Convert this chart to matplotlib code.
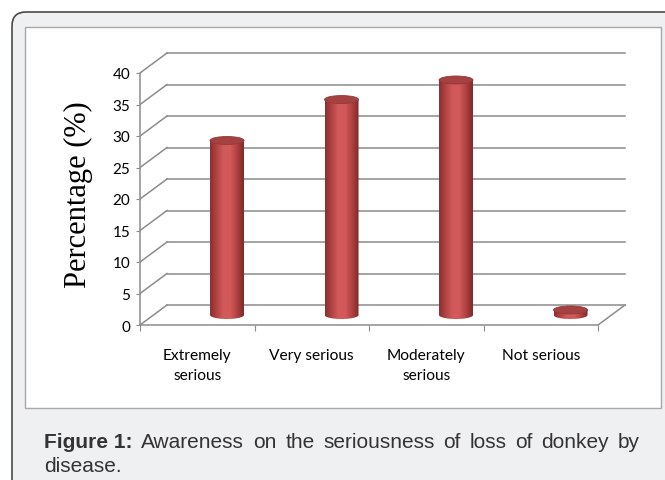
import numpy as np
import matplotlib
matplotlib.use("Agg")
import matplotlib.pyplot as plt
from matplotlib.patches import FancyBboxPatch, Rectangle, Ellipse, Polygon
from matplotlib.colors import LinearSegmentedColormap

# data
categories = ["Extremely\nserious", "Very serious", "Moderately\nserious", "Not serious"]
values = [27.7, 34.2, 37.3, 0.8]
yticks = [0, 5, 10, 15, 20, 25, 30, 35, 40]
caption_bold = "Figure 1:"
caption_rest = "Awareness on the seriousness of loss of donkey by"
caption_line2 = "disease."

W, H = 665, 481
fig = plt.figure(figsize=(W / 100, H / 100), dpi=100)
fig.patch.set_facecolor("white")

# background axes in pixel coords (frames, caption, y label)
bg = fig.add_axes([0, 0, 1, 1], zorder=0)
bg.set_xlim(0, W)
bg.set_ylim(H, 0)
bg.axis("off")
bg.add_patch(FancyBboxPatch((12, 13), 720, 490, boxstyle="round,pad=0,rounding_size=14",
                            fc="#eff0f2", ec="#4a4a4a", lw=1.2))
bg.add_patch(Rectangle((25, 28), 636, 381, fc="white", ec="#a8a8a8", lw=1.0))
bg.text(78, 195, "Percentage (%)", rotation=90, ha="center", va="center",
        fontsize=22, family="Liberation Serif", color="black")

# chart axes: front plane of the pseudo 3-d chart
px_x, px_y = 114.5, 6.3
ax = fig.add_axes([140 / W, 1 - 326 / H, 487 / W, 273 / H], zorder=1)
ax.set_facecolor("none")
DX, DY = 27 / px_x, 20 / px_y
gc = "#8c8c8c"
n = len(categories)

for v in yticks:
    ax.plot([-0.5 + DX, n - 0.5 + DX], [v + DY, v + DY], color=gc, lw=1.1, zorder=1)
    ax.plot([-0.5, -0.5 + DX], [v, v + DY], color=gc, lw=1.1, zorder=1)
ax.plot([n - 0.5, n - 0.5 + DX], [0, DY], color=gc, lw=1.1, zorder=1)

for s in ["top", "right"]:
    ax.spines[s].set_visible(False)
ax.spines["left"].set_bounds(0, 40)
ax.spines["bottom"].set_bounds(-0.5, n - 0.5)
ax.spines["left"].set_color(gc)
ax.spines["bottom"].set_color(gc)
ax.spines["left"].set_linewidth(1.1)
ax.spines["bottom"].set_linewidth(1.1)
ax.set_yticks(yticks)
ax.set_yticklabels([str(t) for t in yticks], fontsize=11, family="Lato")
ax.set_xticks(np.arange(n + 1) - 0.5)
ax.set_xticklabels([])
ax.tick_params(axis="y", length=3, color=gc, pad=4)
ax.tick_params(axis="x", length=4, color=gc)
for i, c in enumerate(categories):
    ax.text(i, -3.7, c, ha="center", va="top", fontsize=11.2, family="Lato",
            linespacing=1.5)

# cylinders
cmap = LinearSegmentedColormap.from_list(
    "cyl", ["#8a2f2f", "#b44444", "#d35a5a", "#d25959", "#b04040", "#7e2a2a"])
grad = np.linspace(0, 1, 200)[np.newaxis, :]
off = 0.26
hw = 17 / px_x
eh = 4 / px_y
y0 = DY / 2
for i, v in enumerate(values):
    xc = i + off
    y1 = y0 + v
    t = np.linspace(np.pi, 2 * np.pi, 60)
    pts = [(xc - hw, y1)] + [(xc + hw * np.cos(a), y0 + eh * np.sin(a)) for a in t] + [(xc + hw, y1)]
    body = Polygon(pts, closed=True, fc="none", ec="none", zorder=3)
    ax.add_patch(body)
    im = ax.imshow(grad, cmap=cmap, extent=(xc - hw, xc + hw, y0 - eh, y1 + eh),
                   aspect="auto", zorder=3, interpolation="bilinear")
    im.set_clip_path(body)
    ax.add_patch(Ellipse((xc, y1), 2 * hw, 2 * eh, fc="#a54140", ec="#93393a",
                         lw=0.6, zorder=4))
ax.set_xlim(-0.5, -0.5 + 487 / px_x)
ax.set_ylim(0, 273 / px_y)

# caption, justified first line
fs = 15
cc = "#333333"
words = caption_rest.split()
fig.canvas.draw()
r = fig.canvas.get_renderer()
t0 = bg.text(44, 443, caption_bold, fontsize=fs, fontweight="bold", family="Liberation Sans",
             color=cc, va="center", ha="left")
arts = [t0]
for w in words:
    arts.append(bg.text(0, 443, w, fontsize=fs, family="Liberation Sans", color=cc,
                        va="center", ha="left"))
widths = [a.get_window_extent(r).width for a in arts]
gap = (640 - 44 - sum(widths)) / (len(arts) - 1)
x = 44
for a, wd in zip(arts, widths):
    a.set_x(x)
    x += wd + gap
bg.text(44, 467, caption_line2, fontsize=fs, family="Liberation Sans", color=cc,
        va="center", ha="left")

fig.savefig("out.png", dpi=100)
